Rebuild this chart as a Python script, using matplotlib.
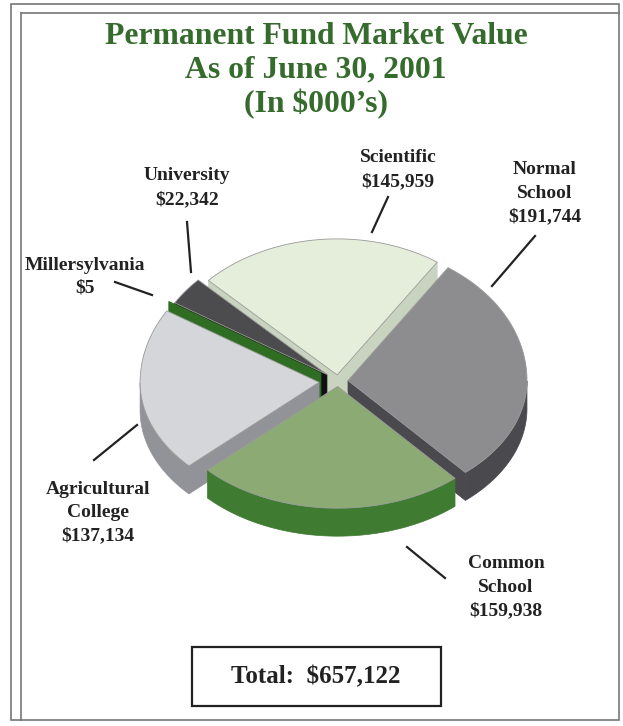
import numpy as np
import matplotlib.pyplot as plt
from matplotlib.patches import Polygon, Rectangle

plt.rcParams['font.family'] = ['Liberation Serif', 'DejaVu Serif']

# fund values (in $000's), clockwise from the top
funds = ["Scientific", "Normal\nSchool", "Common\nSchool",
         "Agricultural\nCollege", "Millersylvania", "University"]
values = [145959, 191744, 159938, 137134, 5, 22342]
title_lines = ["Permanent Fund Market Value", "As of June 30, 2001", "(In $000\u2019s)"]

top_colors = ["#e4eedb", "#8d8d8f", "#8cab74", "#d5d6da", "#2f6e22", "#4c4c4e"]
side_colors = ["#c9d4c0", "#4a4a4e", "#3f7b31", "#929399", "#2f6e22", "#111111"]

# label position (x, y of first line centre) and leader line ends
label_pos = [(398, 158), (545, 170), (506, 564), (98, 489), (85, 265), (187, 176)]
leaders = [((388, 197), (372, 232)), ((535, 236), (492, 286)), ((407, 547), (445, 578)),
           ((137, 425), (94, 460)), ((115, 282), (152, 295)), ((187, 222), (191, 272))]

fig = plt.figure(figsize=(6.23, 7.26), dpi=100)
ax = fig.add_axes([0, 0, 1, 1])
ax.set_xlim(0, 623)
ax.set_ylim(726, 0)
ax.axis('off')

# frame
ax.add_patch(Rectangle((11, 4), 608, 716, fill=False, ec="#777777", lw=1.2))
ax.plot([21, 21], [720, 13], color="#777777", lw=1.2)
ax.plot([21, 619], [13, 13], color="#777777", lw=1.2)

# title
for i, t in enumerate(title_lines):
    ax.text(316, 36 + i * 34, t, ha="center", va="center", fontsize=22.8,
            fontweight="bold", color="#356b2c")

# 3d pie (squashed more on the near side)
cx, cy, R, depth = 338, 381, 179, 28
k_far, k_near = 0.76, 0.68
explode = [8, 10, 8, 19, 20, 14]


def pt(t, r, off, dz=0.0):
    u = off[0] + r * np.cos(t)
    v = off[1] + r * np.sin(t)
    k = k_far if v > 0 else k_near
    return (cx + u, cy - k * v + dz)


total = sum(values)
spans = np.array(values) / total * 2 * np.pi
start = np.deg2rad(136.0)
wedges = []
a = start
for s in spans:
    wedges.append((a - s, a))
    a -= s

# back to front
order = [0, 5, 4, 1, 3, 2]
for i in order:
    a1, a2 = wedges[i]
    mid = (a1 + a2) / 2
    off = (explode[i] * np.cos(mid), explode[i] * np.sin(mid))
    ts = np.linspace(a1, a2, 300)
    c_top = pt(0, 0, off)
    c_bot = pt(0, 0, off, depth)
    # radial walls
    for ang, vis in ((a1, np.cos(a1) > 0), (a2, np.cos(a2) < 0)):
        if vis:
            o_top = pt(ang, R, off)
            o_bot = pt(ang, R, off, depth)
            ax.add_patch(Polygon([c_top, o_top, o_bot, c_bot], closed=True,
                                 fc=side_colors[i], ec=side_colors[i], lw=0.5))
    # outer curved wall
    vt = ts[np.sin(ts) <= 0]
    if len(vt) > 1:
        upper = [pt(t, R, off) for t in vt]
        lower = [pt(t, R, off, depth) for t in vt[::-1]]
        ax.add_patch(Polygon(upper + lower, closed=True, fc=side_colors[i],
                             ec=side_colors[i], lw=0.5))
    # top face
    if a2 - a1 > 1e-3:
        top = [c_top] + [pt(t, R, off) for t in ts]
        ax.add_patch(Polygon(top, closed=True, fc=top_colors[i], ec="#9a9a9a", lw=0.6))

# labels and leader lines
for name, v, (lx, ly), (p0, p1) in zip(funds, values, label_pos, leaders):
    lines = name.split("\n") + [f"${v:,}"]
    for j, s in enumerate(lines):
        ax.text(lx, ly + j * 23.5, s, ha="center", va="center", fontsize=14,
                fontweight="bold", color="#222222")
    ax.plot([p0[0], p1[0]], [p0[1], p1[1]], color="#222222", lw=1.6)

# total box
ax.add_patch(Rectangle((192, 647), 249, 59, fill=False, ec="#222222", lw=1.6))
ax.text(316, 677, f"Total:  ${total:,}", ha="center", va="center", fontsize=18,
        fontweight="bold", color="#222222")

fig.savefig("out.png", dpi=100)
